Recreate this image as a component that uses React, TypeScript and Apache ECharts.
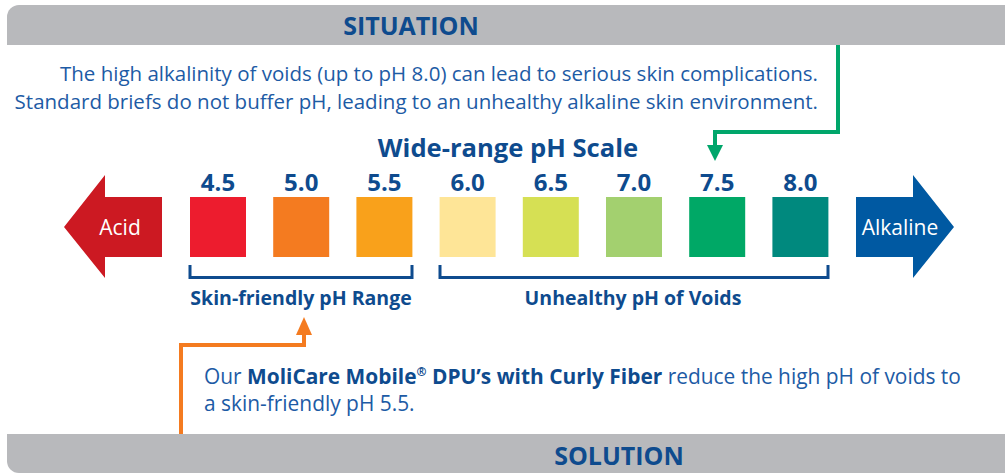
import React, { useEffect, useRef } from "react";
import * as echarts from "echarts";

const phLabels = ["4.5", "5.0", "5.5", "6.0", "6.5", "7.0", "7.5", "8.0"];
const squareValues = [1, 1, 1, 1, 1, 1, 1, 1];
const squareColors = ["#ed1c2e", "#f47b20", "#f9a11b", "#fee597", "#d6e054", "#a3d06f", "#00a866", "#00897e"];

const situationTitle = "SITUATION";
const solutionTitle = "SOLUTION";
const scaleTitle = "Wide-range pH Scale";
const situationLines = [
  "The high alkalinity of voids (up to pH 8.0) can lead to serious skin complications.",
  "Standard briefs do not buffer pH, leading to an unhealthy alkaline skin environment.",
];
const rangeLabels = ["Skin-friendly pH Range", "Unhealthy pH of Voids"];
const endLabels = ["Acid", "Alkaline"];

const FONT = "'Open Sans', 'Noto Sans', sans-serif";
const DARK = "#0e4b8e";
const BODY = "#1d5ba5";

export default function App() {
  const ref = useRef<HTMLDivElement>(null);
  useEffect(() => {
    document.body.style.margin = "0";
    const chart = echarts.init(ref.current!, undefined, { renderer: "svg" });
    chart.setOption({
      animation: false,
      textStyle: { fontFamily: FONT },
      grid: { left: 176.4, width: 665.6, top: 197, height: 60 },
      xAxis: {
        type: "category",
        data: phLabels,
        position: "top",
        axisLine: { show: false },
        axisTick: { show: false },
        axisLabel: { fontSize: 24, fontWeight: "bold", color: DARK, margin: 4, fontFamily: FONT },
      },
      yAxis: { type: "value", min: 0, max: 1, show: false },
      series: [
        {
          type: "bar",
          barWidth: 56,
          data: squareValues.map((v, i) => ({ value: v, itemStyle: { color: squareColors[i] } })),
        },
      ],
      graphic: [
        { type: "rect", shape: { x: 7, y: 5, width: 1000, height: 40, r: [12, 0, 0, 0] }, style: { fill: "#b8b9bc" } },
        { type: "text", x: 411, y: 25, style: { text: situationTitle, align: "center", verticalAlign: "middle", font: `bold 25px ${FONT}`, fill: DARK } },
        { type: "rect", shape: { x: 7, y: 434, width: 1000, height: 39, r: [0, 0, 0, 12] }, style: { fill: "#b8b9bc" } },
        { type: "text", x: 619, y: 455, style: { text: solutionTitle, align: "center", verticalAlign: "middle", font: `bold 25px ${FONT}`, fill: DARK } },
        { type: "polyline", shape: { points: [[838, 45], [838, 132], [715, 132], [715, 148]] }, style: { stroke: "#00a66b", lineWidth: 4, fill: null } },
        { type: "polygon", shape: { points: [[707, 145], [723, 145], [715, 161]] }, style: { fill: "#00a66b" } },
        { type: "polyline", shape: { points: [[181, 434], [181, 345], [304, 345], [304, 332]] }, style: { stroke: "#f47b20", lineWidth: 4, fill: null } },
        { type: "polygon", shape: { points: [[296, 335], [312, 335], [304, 317]] }, style: { fill: "#f47b20" } },
        { type: "text", x: 818, y: 73, style: { text: situationLines[0], align: "right", verticalAlign: "middle", font: `20.5px ${FONT}`, fill: BODY } },
        { type: "text", x: 818, y: 101, style: { text: situationLines[1], align: "right", verticalAlign: "middle", font: `20.5px ${FONT}`, fill: BODY } },
        { type: "text", x: 508, y: 147, style: { text: scaleTitle, align: "center", verticalAlign: "middle", font: `bold 25.6px ${FONT}`, fill: DARK } },
        { type: "polygon", shape: { points: [[64, 227], [105, 175], [105, 197], [162, 197], [162, 257], [105, 257], [105, 278]] }, style: { fill: "#cc1922" } },
        { type: "text", x: 120, y: 227, style: { text: endLabels[0], align: "center", verticalAlign: "middle", font: `21px ${FONT}`, fill: "#fff" } },
        { type: "polygon", shape: { points: [[856, 197], [913, 197], [913, 175], [954, 227], [913, 278], [913, 257], [856, 257]] }, style: { fill: "#0059a2" } },
        { type: "text", x: 900, y: 227, style: { text: endLabels[1], align: "center", verticalAlign: "middle", font: `21px ${FONT}`, fill: "#fff" } },
        { type: "polyline", shape: { points: [[190, 265], [190, 277.5], [412, 277.5], [412, 265]] }, style: { stroke: DARK, lineWidth: 3, fill: null } },
        { type: "polyline", shape: { points: [[440, 265], [440, 277.5], [828, 277.5], [828, 265]] }, style: { stroke: DARK, lineWidth: 3, fill: null } },
        { type: "text", x: 301, y: 297, style: { text: rangeLabels[0], align: "center", verticalAlign: "middle", font: `bold 19.5px ${FONT}`, fill: DARK } },
        { type: "text", x: 633, y: 297, style: { text: rangeLabels[1], align: "center", verticalAlign: "middle", font: `bold 19.5px ${FONT}`, fill: DARK } },
        {
          type: "text",
          x: 204,
          y: 376,
          style: {
            text: "{n|Our }{b|MoliCare Mobile}{s|®}{b| DPU’s with Curly Fiber}{n| reduce the high pH of voids to}",
            verticalAlign: "middle",
            font: `20.9px ${FONT}`,
            rich: {
              n: { font: `20.9px ${FONT}`, fill: BODY, color: BODY },
              b: { font: `bold 20.9px ${FONT}`, fill: DARK, color: DARK },
              s: { font: `bold 12px ${FONT}`, fill: DARK, color: DARK, verticalAlign: "top", padding: [0, 0, 9, 0] },
            },
          },
        },
        { type: "text", x: 204, y: 403, style: { text: "a skin-friendly pH 5.5.", verticalAlign: "middle", font: `20.9px ${FONT}`, fill: BODY } },
      ],
    });
    return () => chart.dispose();
  }, []);
  return <div ref={ref} style={{ width: 1005, height: 473 }} />;
}
